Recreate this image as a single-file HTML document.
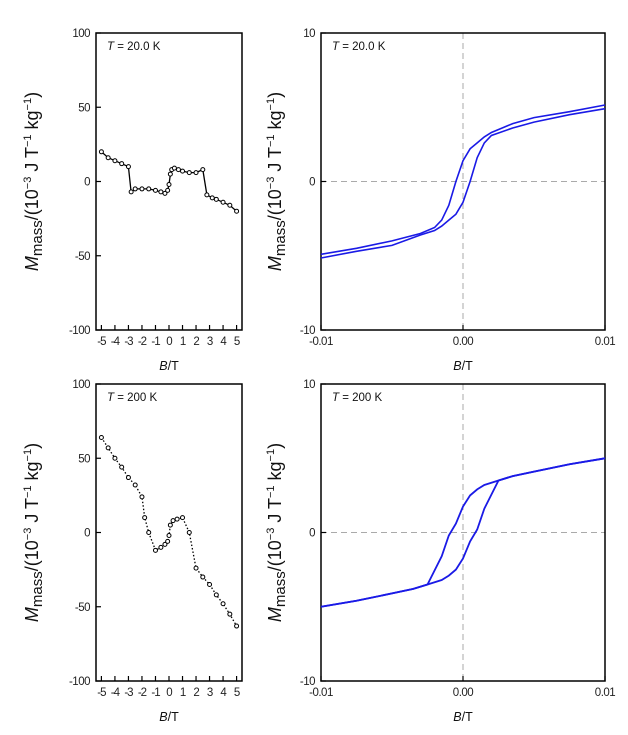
<!DOCTYPE html>
<html><head><meta charset="utf-8"><style>
body{margin:0;background:#fff;width:628px;height:730px;overflow:hidden}
svg{font-family:"Liberation Sans",sans-serif}
</style></head><body>
<svg id="fig" width="628" height="730"></svg>
<script>
// Panel A (T=20.0 K, wide field)
const aX=[-5,-4.5,-4,-3.5,-3,-2.8,-2.5,-2,-1.5,-1,-0.6,-0.3,-0.1,0,0.1,0.2,0.4,0.7,1,1.5,2,2.5,2.8,3.2,3.5,4,4.5,5];
const aY=[20,16,14,12,10,-7,-5,-5,-5,-6,-7,-8,-6,-2,5,8,9,8,7,6,6,8,-9,-11,-12,-14,-16,-20];
// Panel C (T=200 K, wide field)
const cX=[-5,-4.5,-4,-3.5,-3,-2.5,-2,-1.8,-1.5,-1,-0.6,-0.3,-0.1,0,0.1,0.3,0.6,1,1.5,2,2.5,3,3.5,4,4.5,5];
const cY=[64,57,50,44,37,32,24,10,0,-12,-10,-8,-6,-2,5,8,9,10,0,-24,-30,-35,-42,-48,-55,-63];
// Panel B (T=20.0 K, loop) descending & ascending branches
const bX=[0.01,0.0075,0.005,0.0035,0.002,0.0015,0.001,0.0005,0,-0.0005,-0.001,-0.0015,-0.002,-0.003,-0.005,-0.0075,-0.01];
const bDown=[5.15,4.7,4.3,3.9,3.3,3.0,2.6,2.2,1.4,0,-1.6,-2.6,-3.1,-3.5,-4.0,-4.5,-4.9];
const bUp=[4.9,4.5,4.0,3.6,3.1,2.6,1.6,0,-1.4,-2.2,-2.6,-3.0,-3.3,-3.6,-4.3,-4.7,-5.15];
// Panel D (T=200 K, loop)
const dX=[0.01,0.0075,0.005,0.0035,0.0025,0.0015,0.001,0.0005,0,-0.0005,-0.001,-0.0015,-0.0025,-0.0035,-0.005,-0.0075,-0.01];
const dDown=[5.0,4.6,4.1,3.8,3.5,3.2,2.9,2.5,1.75,0.6,-0.2,-1.6,-3.5,-3.8,-4.1,-4.6,-5.0];
const dUp=[5.0,4.6,4.1,3.8,3.5,1.6,0.2,-0.6,-1.75,-2.5,-2.9,-3.2,-3.5,-3.8,-4.1,-4.6,-5.0];
const ticksL=[-5,-4,-3,-2,-1,0,1,2,3,4,5];
const yticksL=[100,50,0,-50,-100];
const xticksR=[-0.01,0,0.01];
const xtickLabR=["-0.01","0.00","0.01"];
const yticksR=[10,0,-10];

const NS="http://www.w3.org/2000/svg",svg=document.getElementById('fig');
function el(t,a,p){const e=document.createElementNS(NS,t);for(const k in a)e.setAttribute(k,a[k]);(p||svg).appendChild(e);return e;}
function txt(s,a,p){const e=el('text',a,p);e.textContent=s;return e;}

function panel(name,x0,x1,y0,y1,xmin,xmax,ymin,ymax,temp,right){
  const g=el('g',{});
  
  
  const sx=v=>x0+(v-xmin)/(xmax-xmin)*(x1-x0);
  const sy=v=>y1-(v-ymin)/(ymax-ymin)*(y1-y0);
  if(right){
    const h=el('line',{x1:x0,x2:x1,y1:sy(0),y2:sy(0),stroke:'#aaa','stroke-width':1,'stroke-dasharray':'6,4'},g);
    
    
    const v=el('line',{x1:sx(0),x2:sx(0),y1:y0,y2:y1,stroke:'#aaa','stroke-width':1,'stroke-dasharray':'6,4'},g);
    
    
  }
  const fr=el('rect',{x:x0,y:y0,width:x1-x0,height:y1-y0,fill:'none',stroke:'#000','stroke-width':1.5},g);
  
  
  const xt=right?xticksR:ticksL, yt=right?yticksR:yticksL;
  xt.forEach((t,i)=>{
    el('line',{x1:sx(t),x2:sx(t),y1:y1,y2:y1-5,stroke:'#000','stroke-width':1.2},g);
    const l=txt(right?xtickLabR[i]:String(t),{x:sx(t),y:y1+15,'font-size':11.5,'text-anchor':'middle',fill:'#222','letter-spacing':right?'-0.5':'-1'},g);
    
    
  });
  yt.forEach(t=>{
    el('line',{x1:x0,x2:x0+5,y1:sy(t),y2:sy(t),stroke:'#000','stroke-width':1.2},g);
    const l=txt(String(t),{x:x0-6,y:sy(t)+4,'font-size':11.5,'text-anchor':'end',fill:'#222','letter-spacing':'-0.5'},g);
    
    
  });
  const tl=txt('',{x:x0+11,y:y0+17,'font-size':11.5,fill:'#111'},g);
  tl.innerHTML='<tspan font-style="italic">T</tspan> = '+temp;
  
  
  const xl=txt('',{x:(x0+x1)/2,y:y1+40,'font-size':12.5,'text-anchor':'middle',fill:'#111'},g);
  xl.innerHTML='<tspan font-style="italic">B</tspan>/T';
  
  
  const cy=(y0+y1)/2, cx=x0-(right?40:58);
  const yl=txt('',{x:cx,y:cy,'font-size':18,'text-anchor':'middle',fill:'#111',transform:`rotate(-90 ${cx} ${cy})`},g);
  yl.innerHTML='<tspan font-style="italic">M</tspan><tspan font-size="15" dy="4">mass</tspan><tspan dy="-4">/(10</tspan><tspan font-size="11" dy="-7">−3</tspan><tspan dy="7"> J T</tspan><tspan font-size="11" dy="-7">−1</tspan><tspan dy="7"> kg</tspan><tspan font-size="11" dy="-7">−1</tspan><tspan dy="7">)</tspan>';
  
  
  return {g,sx,sy};
}
function series(P,xs,ys,name,color,dash,markers,w){
  const d=xs.map((x,i)=>(i?'L':'M')+P.sx(x).toFixed(1)+','+P.sy(ys[i]).toFixed(1)).join('');
  const p=el('path',{d,fill:'none',stroke:color,'stroke-width':w,'stroke-dasharray':dash||'none'},P.g);
  
  
  if(markers){
    xs.forEach((x,i)=>{
      const c=el('circle',{cx:P.sx(x),cy:P.sy(ys[i]),r:2,fill:'#fff',stroke:'#000','stroke-width':1},P.g);
      
      
    });
  }
}
const A=panel('panel-20k-wide',96,242,33,330,-5.4,5.4,-100,100,'20.0 K',false);
series(A,aX,aY,'series-20k-wide','#000',null,true,1.3);
const C=panel('panel-200k-wide',96,242,384,681,-5.4,5.4,-100,100,'200 K',false);
series(C,cX,cY,'series-200k-wide','#000','1.5,2',true,1.3);
const B=panel('panel-20k-loop',321,605,33,330,-0.01,0.01,-10,10,'20.0 K',true);
series(B,bX,bDown,'branch-down-20k','#1a1ae6',null,false,1.6);
series(B,bX,bUp,'branch-up-20k','#1a1ae6',null,false,1.6);
const D=panel('panel-200k-loop',321,605,384,681,-0.01,0.01,-10,10,'200 K',true);
series(D,dX,dDown,'branch-down-200k','#1a1ae6',null,false,1.8);
series(D,dX,dUp,'branch-up-200k','#1a1ae6',null,false,1.8);
</script>
</body></html>
